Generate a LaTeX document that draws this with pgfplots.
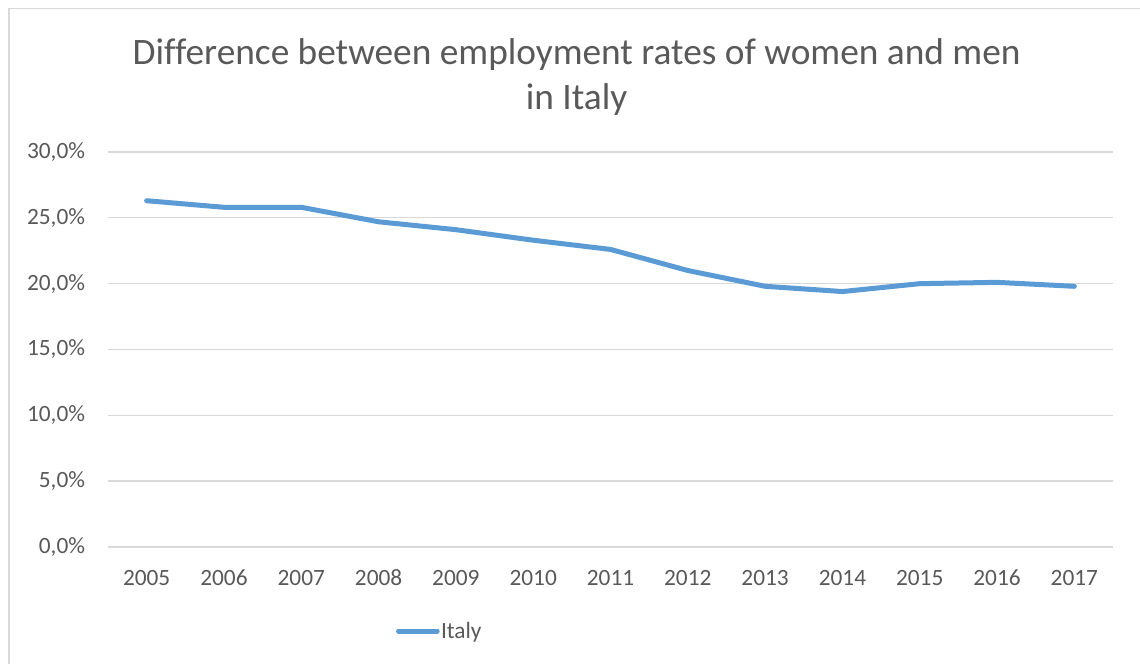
\documentclass[border=0pt]{standalone}
\usepackage{pgfplots}
\pgfplotsset{compat=1.18}
\usepackage{fontspec}
\setmainfont[Ligatures=NoCommon]{Carlito}
\definecolor{txt}{HTML}{595959}
\definecolor{gridc}{HTML}{D9D9D9}
\definecolor{ser}{HTML}{5B9BD5}
\definecolor{framec}{HTML}{D9D9D9}
\begin{document}
\begin{tikzpicture}
\useasboundingbox[fill=white] (0pt,0pt) rectangle (855pt,498pt);
\draw[framec, line width=0.9pt] (6.75pt,0pt) -- (6.75pt,491.6pt) -- (855pt,491.6pt);
\node[anchor=base, text=txt, font=\fontsize{28}{34}\selectfont, inner sep=0pt] at (432.4pt,449.25pt) {Difference between employment rates of women and men};
\node[anchor=base, text=txt, font=\fontsize{28}{34}\selectfont, inner sep=0pt] at (432.4pt,415.5pt) {in Italy};
\begin{axis}[
  at={(81pt,87.75pt)}, anchor=south west,
  scale only axis, width=753.75pt, height=296.25pt,
  xmin=-0.5, xmax=12.5, ymin=0, ymax=30,
  axis line style={draw=none},
  xtick={0,...,12},
  xticklabels={2005,2006,2007,2008,2009,2010,2011,2012,2013,2014,2015,2016,2017},
  ytick={0,5,10,15,20,25,30},
  yticklabels={{0,0\%},{5,0\%},{10,0\%},{15,0\%},{20,0\%},{25,0\%},{30,0\%}},
  tick style={draw=none},
  xmajorgrids=false,
  ymajorgrids, grid style={draw=gridc, line width=1pt},
  tick label style={text=txt, font=\fontsize{17.5}{20}\selectfont, inner sep=0pt},
  yticklabel style={anchor=east, xshift=-17pt},
  xticklabel style={anchor=base, yshift=-29.25pt},
  legend style={draw=none, fill=none, inner sep=0pt, outer sep=0pt,
    at={(0.2866,-0.2127)}, anchor=west,
    font=\fontsize{17.5}{20}\selectfont, text=txt,
    nodes={inner sep=1pt}},
  legend image code/.code={\draw[ser, line width=3.75pt, line cap=round] (0pt,0pt) -- (29pt,0pt);},
  clip=false,
]
\addplot[ser, line width=3.75pt, line cap=round, line join=round] coordinates {
(0,26.3) (1,25.8) (2,25.8) (3,24.7) (4,24.1) (5,23.3) (6,22.6) (7,21.0) (8,19.8) (9,19.4) (10,20.0) (11,20.1) (12,19.8)
};
\addlegendentry{Italy}
\end{axis}
\end{tikzpicture}
\end{document}
